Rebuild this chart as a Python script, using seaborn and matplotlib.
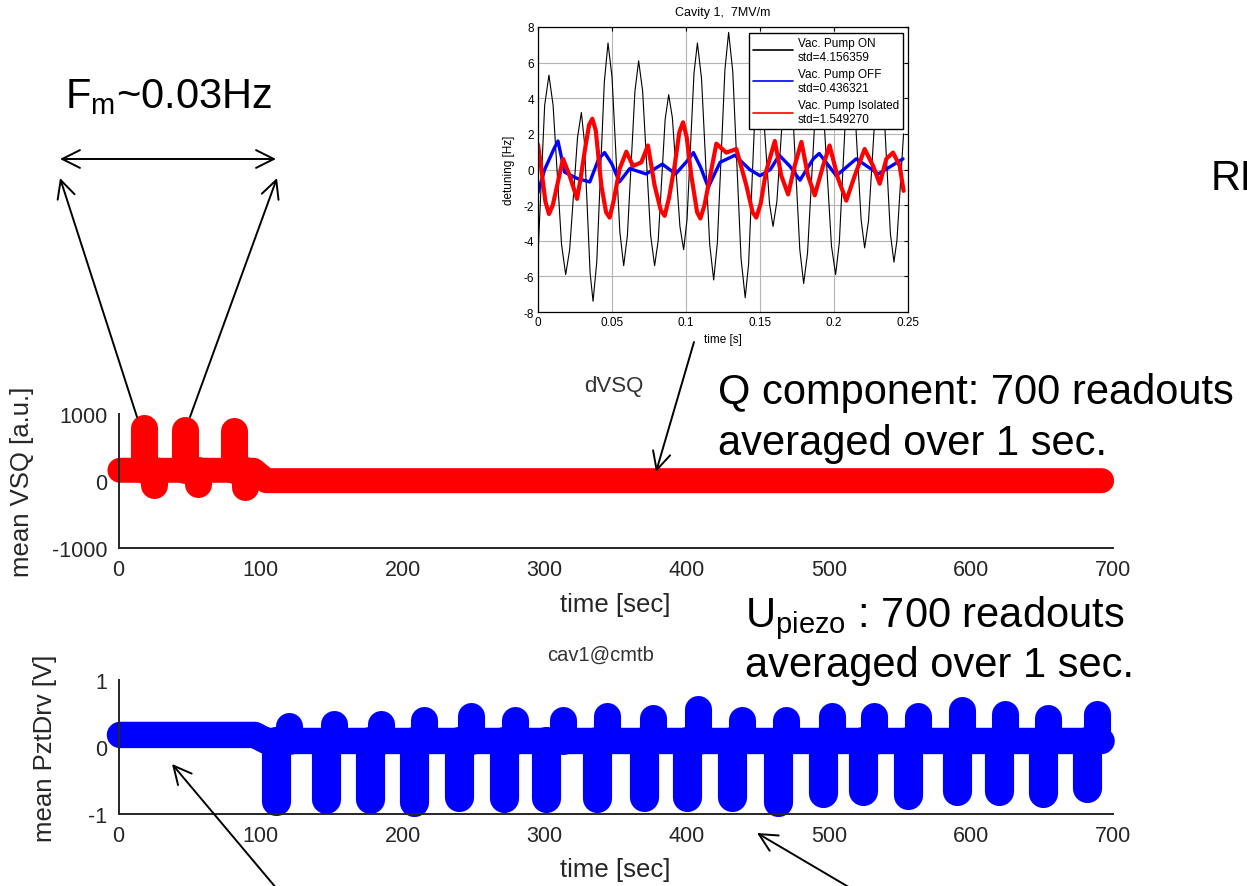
import matplotlib
matplotlib.use("Agg")
import matplotlib.pyplot as plt
from matplotlib.patches import FancyArrowPatch
import seaborn as sns

# ---------------- data ----------------
# Inset: detuning [Hz] vs time [s]
on_t = [0.0, 0.0045, 0.0074, 0.0102, 0.0159, 0.0187, 0.0214, 0.0267, 0.0293, 0.0313,
        0.0352, 0.0372, 0.0397, 0.0448, 0.0473, 0.0500, 0.0553, 0.0579, 0.0604, 0.0655,
        0.0680, 0.0707, 0.0761, 0.0788, 0.0812, 0.0859, 0.0883, 0.0908, 0.0959, 0.0984,
        0.1007, 0.1054, 0.1077, 0.1105, 0.1160, 0.1187, 0.1212, 0.1263, 0.1288, 0.1316,
        0.1372, 0.1400, 0.1423, 0.1468, 0.1490, 0.1515, 0.1564, 0.1588, 0.1614, 0.1665,
        0.1690, 0.1716, 0.1769, 0.1795, 0.1821, 0.1874, 0.1900, 0.1928, 0.1983, 0.2011,
        0.2036, 0.2085, 0.2110, 0.2134, 0.2183, 0.2207, 0.2233, 0.2284, 0.2310, 0.2334,
        0.2381, 0.2405, 0.2425, 0.2470]
on_v = [-4.8, 3.6, 5.3, 3.6, -4.2, -5.9, -4.5, 1.8, 3.2, 1.6,
        -5.8, -7.4, -5.2, 4.9, 7.1, 5.2, -3.5, -5.4, -3.7, 4.4,
        6.1, 4.4, -3.7, -5.4, -4.0, 2.8, 4.2, 2.9, -3.2, -4.5,
        -2.8, 5.4, 7.1, 5.1, -4.2, -6.2, -4.1, 5.6, 7.7, 5.5,
        -5.0, -7.2, -5.3, 3.6, 5.5, 4.2, -1.9, -3.2, -1.8, 4.6,
        6.0, 4.1, -4.5, -6.4, -4.7, 3.3, 5.0, 3.4, -4.3, -5.9,
        -4.1, 4.2, 6.0, 4.4, -2.8, -4.4, -2.9, 4.0, 5.5, 3.9,
        -3.6, -5.2, -4.0, 2.0]

off_t = [0.0, 0.0045, 0.0110, 0.0135, 0.018, 0.0264, 0.035, 0.041, 0.045, 0.050,
         0.055, 0.062, 0.073, 0.084, 0.093, 0.101, 0.105, 0.110, 0.115, 0.123,
         0.133, 0.143, 0.150, 0.157, 0.163, 0.170, 0.177, 0.186, 0.190, 0.2016,
         0.215, 0.230, 0.2466]
off_v = [-1.3, 0.0, 1.2, 1.6, -0.15, -0.5, -0.7, 0.6, 0.95, 0.3,
         -0.7, 0.05, -0.25, 0.3, -0.25, 0.5, 0.95, 0.1, -1.0, 0.4,
         0.8, 0.0, -0.35, 0.0, 0.8, 0.2, -0.6, 0.6, 0.9, -0.35,
         0.6, -0.25, 0.6]

iso_t = [0.0, 0.002, 0.005, 0.0074, 0.0100, 0.0124, 0.0169, 0.0214, 0.0264, 0.0290,
         0.0315, 0.0345, 0.0367, 0.0390, 0.0428, 0.0460, 0.0484, 0.0510, 0.0552, 0.0597,
         0.0642, 0.0698, 0.0743, 0.0788, 0.0830, 0.0856, 0.0885, 0.0923, 0.0955, 0.098,
         0.1005, 0.1036, 0.1075, 0.1097, 0.1125, 0.116, 0.1205, 0.1272, 0.134, 0.1408,
         0.1450, 0.1475, 0.1505, 0.154, 0.160, 0.1644, 0.169, 0.1734, 0.178, 0.1824,
         0.187, 0.1926, 0.197, 0.2027, 0.2083, 0.214, 0.2207, 0.2264, 0.2309, 0.2354,
         0.2399, 0.2444, 0.247]
iso_v = [1.4, 0.2, -1.8, -2.5, -2.0, -1.1, 0.6, -0.35, -1.65, -0.4,
         1.0, 2.5, 2.85, 2.2, -0.9, -2.4, -2.7, -1.8, 0.05, 1.0,
         0.2, 0.4, 1.35, -0.9, -2.3, -2.6, -1.6, 0.2, 2.1, 2.65,
         1.8, -0.35, -2.4, -2.75, -2.0, -0.5, 1.45, 0.95, 1.15, -0.9,
         -2.4, -2.7, -1.9, -0.15, 1.6, -0.35, -1.4, 0.2, 1.55, -0.35,
         -1.45, 0.2, 1.35, -0.5, -1.75, -0.35, 1.15, 0.2, -0.8, 0.6,
         0.95, 0.2, -1.2]

inset_xticks = [0, 0.05, 0.1, 0.15, 0.2, 0.25]
inset_xticklabels = ["0", "0.05", "0.1", "0.15", "0.2", "0.25"]
inset_yticks = [-8, -6, -4, -2, 0, 2, 4, 6, 8]
inset_labels = ["Vac. Pump ON\nstd=4.156359",
                "Vac. Pump OFF\nstd=0.436321",
                "Vac. Pump Isolated\nstd=1.549270"]

# Middle: mean VSQ [a.u.] vs time [sec]
vsq_base_t = [1, 95, 104, 200, 300, 400, 500, 600, 692]
vsq_base_v = [160, 160, 5, 5, 5, 5, 5, 5, 5]
vsq_peak_t = [18, 47, 81]
vsq_peak_v = [790, 760, 745]
vsq_dip_t = [25, 56, 89]
vsq_dip_v = [-55, -45, -85]

# Bottom: mean PztDrv [V] vs time [sec]
pzt_base_t = [1, 96, 104, 200, 300, 400, 500, 600, 692]
pzt_base_v = [0.18, 0.18, 0.09, 0.09, 0.09, 0.09, 0.09, 0.09, 0.09]
pzt_dip_t = [111, 146, 177, 208, 240, 271, 301, 337, 370, 400,
             432, 464, 496, 524, 556, 590, 620, 651, 682]
pzt_dip_v = [-0.81, -0.78, -0.78, -0.82, -0.75, -0.76, -0.76, -0.76, -0.75, -0.74,
             -0.75, -0.82, -0.68, -0.66, -0.71, -0.66, -0.66, -0.68, -0.61]
pzt_peak_t = [120, 152, 185, 215, 248, 279, 313, 344, 376, 408,
              439, 470, 502, 532, 563, 594, 624, 654, 689]
pzt_peak_v = [0.32, 0.35, 0.35, 0.40, 0.47, 0.40, 0.40, 0.47, 0.44, 0.56,
              0.41, 0.41, 0.47, 0.47, 0.47, 0.55, 0.49, 0.44, 0.49]

main_xticks = [0, 100, 200, 300, 400, 500, 600, 700]

# ---------------- style ----------------
sns.set_style("white")
plt.rcParams["font.family"] = ["Liberation Sans", "DejaVu Sans"]
plt.rcParams["axes.unicode_minus"] = False
plt.rcParams["mathtext.fontset"] = "custom"
plt.rcParams["mathtext.rm"] = "Liberation Sans"
plt.rcParams["mathtext.it"] = "Liberation Sans:italic"
plt.rcParams["mathtext.bf"] = "Liberation Sans:bold"

W, H = 1247, 887
fig = plt.figure(figsize=(W / 100, H / 100), dpi=100)
fig.patch.set_facecolor("white")


def fx(px):
    return px / W


def fy(py):
    return 1 - py / H


GRAY = "#262626"

# ---------------- inset ----------------
ax_in = fig.add_axes([fx(538), fy(313), (908 - 538) / W, (313 - 28) / H])
sns.lineplot(x=on_t, y=on_v, ax=ax_in, color="black", linewidth=0.8,
             sort=False, estimator=None, label=inset_labels[0])
sns.lineplot(x=off_t, y=off_v, ax=ax_in, color="#0000ff", linewidth=2.4,
             sort=False, estimator=None, label=inset_labels[1])
sns.lineplot(x=iso_t, y=iso_v, ax=ax_in, color="#ff0000", linewidth=3.0,
             sort=False, estimator=None, label=inset_labels[2])
ax_in.set_xlim(0, 0.25)
ax_in.set_ylim(-8, 8)
ax_in.set_xticks(inset_xticks)
ax_in.set_xticklabels(inset_xticklabels)
ax_in.set_yticks(inset_yticks)
ax_in.grid(True, color="#b4b4b4", linewidth=0.8)
ax_in.set_axisbelow(True)
ax_in.tick_params(direction="in", length=3, labelsize=8.5, pad=3,
                  top=True, right=True, colors="black")
for s in ax_in.spines.values():
    s.set_visible(True)
    s.set_color("black")
    s.set_linewidth(0.9)
ax_in.set_xlabel("time [s]", fontsize=8.5, color="black")
ax_in.set_ylabel("detuning [Hz]", fontsize=8.5, color="black")
ax_in.xaxis.set_label_coords(0.5, -0.075)
ax_in.yaxis.set_label_coords(-0.062, 0.5)
ax_in.text(0.5, 1.053, "Cavity 1,  7MV/m", transform=ax_in.transAxes,
           ha="center", va="center", fontsize=9, color="black")
leg = ax_in.legend(loc="upper right", bbox_to_anchor=(0.9865, 0.979),
                   borderaxespad=0, fontsize=8.5, frameon=True, fancybox=False,
                   edgecolor="black", framealpha=1, handlelength=3.4,
                   handletextpad=0.4, labelspacing=0.45, borderpad=0.35)
leg.get_frame().set_linewidth(1.0)
for h in leg.get_lines():
    h.set_linewidth(1.2)
for t in leg.get_texts():
    t.set_color("black")

# ---------------- middle (VSQ) ----------------
ax_q = fig.add_axes([fx(118.5), fy(549), (1113 - 118.5) / W, (549 - 415) / H])
ax_q.patch.set_alpha(0)
sns.lineplot(x=vsq_base_t, y=vsq_base_v, ax=ax_q, color="#ff0000", linewidth=18,
             sort=False, estimator=None, solid_capstyle="round",
             solid_joinstyle="round", clip_on=False, legend=False)
ax_q.vlines(vsq_peak_t, 160, vsq_peak_v, color="#ff0000", linewidth=19.5,
            capstyle="round", clip_on=False)
ax_q.vlines(vsq_dip_t, 160, vsq_dip_v, color="#ff0000", linewidth=19.5,
            capstyle="round", clip_on=False)
ax_q.set_ylim(-1000, 1000)
ax_q.set_yticks([-1000, 0, 1000])
ax_q.set_ylabel("mean VSQ [a.u.]", fontsize=18.5, color=GRAY)
ax_q.yaxis.set_label_coords(-0.085, 0.5)
ax_q.set_xlabel("time [sec]", fontsize=18.5, color=GRAY)
ax_q.xaxis.set_label_coords(0.5, -0.33)
ax_q.text(0.4985, 1.215, "dVSQ", transform=ax_q.transAxes, ha="center",
          va="center", fontsize=16, color="#333333")

# ---------------- bottom (PztDrv) ----------------
ax_p = fig.add_axes([fx(118.5), fy(815), (1113 - 118.5) / W, (815 - 681) / H])
ax_p.patch.set_alpha(0)
ax_p.vlines(pzt_dip_t, 0.09, pzt_dip_v, color="#0000ff", linewidth=21,
            capstyle="round", clip_on=False)
ax_p.vlines(pzt_peak_t, 0.09, pzt_peak_v, color="#0000ff", linewidth=19.5,
            capstyle="round", clip_on=False)
sns.lineplot(x=pzt_base_t, y=pzt_base_v, ax=ax_p, color="#0000ff", linewidth=19,
             sort=False, estimator=None, solid_capstyle="round",
             solid_joinstyle="round", clip_on=False, legend=False)
ax_p.set_ylim(-1, 1)
ax_p.set_yticks([-1, 0, 1])
ax_p.set_ylabel("mean PztDrv [V]", fontsize=18.5, color=GRAY)
ax_p.yaxis.set_label_coords(-0.062, 0.5)
ax_p.set_xlabel("time [sec]", fontsize=18.5, color=GRAY)
ax_p.xaxis.set_label_coords(0.5, -0.32)
ax_p.text(0.485, 1.194, "cav1@cmtb", transform=ax_p.transAxes, ha="center",
          va="center", fontsize=14.5, color="#333333")

for ax in (ax_q, ax_p):
    ax.set_xlim(0, 700)
    ax.set_xticks(main_xticks)
    ax.spines["top"].set_visible(False)
    ax.spines["right"].set_visible(False)
    for side in ("left", "bottom"):
        ax.spines[side].set_color(GRAY)
        ax.spines[side].set_linewidth(1.4)
    ax.tick_params(direction="in", length=7, width=1.3, labelsize=15.5,
                   pad=8, colors=GRAY)
    ax.grid(False)


# ---------------- annotations ----------------
def arrow(x0, y0, x1, y1, style="->"):
    a = FancyArrowPatch((fx(x0), fy(y0)), (fx(x1), fy(y1)),
                        transform=fig.transFigure,
                        arrowstyle=f"{style},head_length=0.4,head_width=0.2",
                        mutation_scale=32, lw=1.4, color="black",
                        shrinkA=0, shrinkB=0)
    fig.add_artist(a)


arrow(60, 160, 276, 160, "<->")
arrow(137, 418, 60, 179)
arrow(190, 418, 277, 179)
arrow(694, 343, 656, 473)
arrow(277, 890, 172, 765)
arrow(852, 890, 757, 834)

BIG = 30
TXT = dict(fontsize=BIG, va="baseline", color="black")
fig.text(fx(65), fy(108), "F$_{\\mathrm{m}}$~0.03Hz", **TXT)
fig.text(fx(718), fy(404), "Q component: 700 readouts", **TXT)
fig.text(fx(718), fy(455), "averaged over 1 sec.", **TXT)
fig.text(fx(745), fy(627), "U$_{\\mathrm{piezo}}$ : 700 readouts", **TXT)
fig.text(fx(745), fy(677), "averaged over 1 sec.", **TXT)
fig.text(fx(1211), fy(190), "RF", **TXT)

fig.savefig("out.png", dpi=100, facecolor="white")
